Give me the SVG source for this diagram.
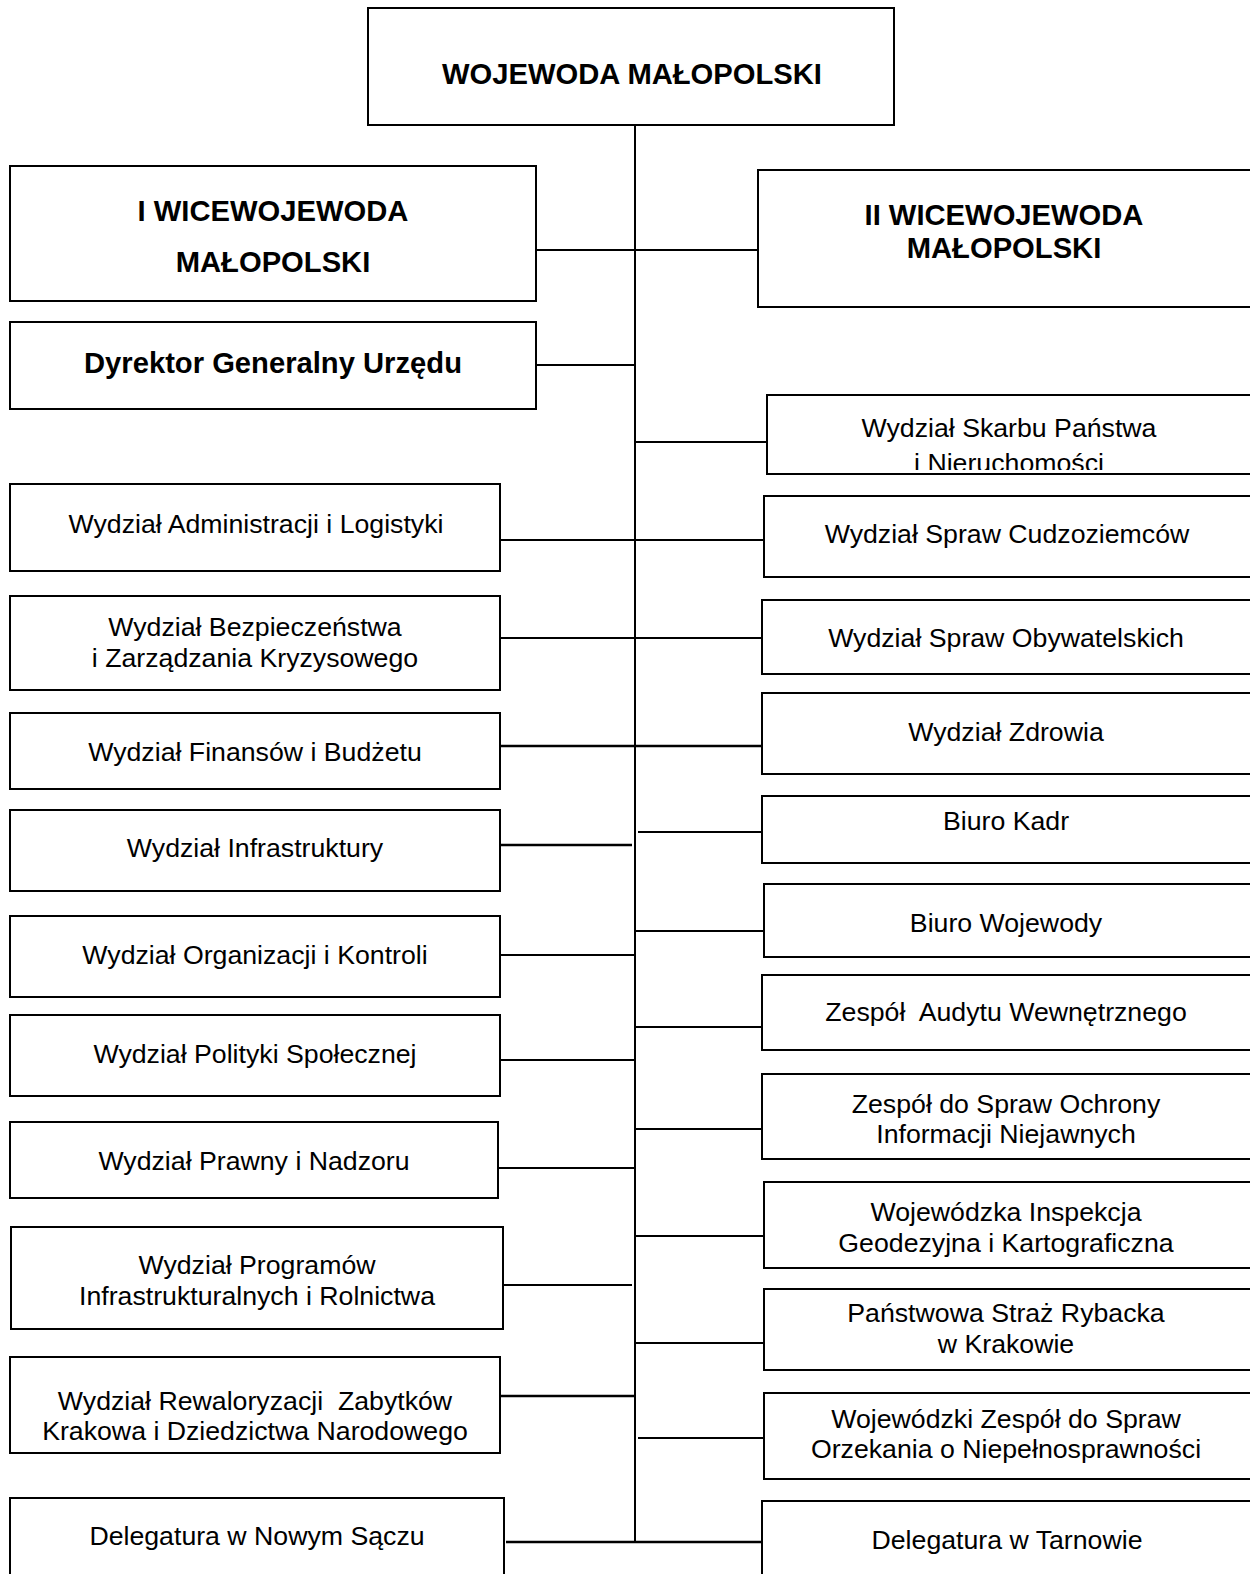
<svg xmlns="http://www.w3.org/2000/svg" width="1250" height="1574" viewBox="0 0 1250 1574">
<style>
.box{fill:#fff;stroke:#000;stroke-width:2}
.c line{stroke:#000;stroke-width:2}
.c line.k{stroke-width:2.6}
text{font-family:"Liberation Sans",Arial,sans-serif;text-anchor:middle;fill:#000}
.t{font-size:26.7px}
.b{font-size:29.2px;font-weight:bold}
</style>
<defs>
<clipPath id="clipSkarb"><rect x="767" y="395" width="490" height="75"/></clipPath>
<clipPath id="clipRew"><rect x="10" y="1357" width="490" height="88"/></clipPath>
</defs>
<rect width="1250" height="1574" fill="#fff"/>
<g class="c" id="connectors">
<line x1="635" y1="122" x2="635" y2="1542"/>
<line x1="537" y1="250" x2="760" y2="250"/>
<line x1="536" y1="365" x2="635" y2="365"/>
<line x1="635" y1="442" x2="767" y2="442"/>
<line x1="500" y1="540" x2="765" y2="540"/>
<line x1="501" y1="638" x2="762" y2="638"/>
<line class="k" x1="501" y1="746" x2="762" y2="746"/>
<line class="k" x1="501" y1="845" x2="632" y2="845"/>
<line x1="638" y1="832" x2="762" y2="832"/>
<line x1="635" y1="931" x2="764" y2="931"/>
<line x1="501" y1="955" x2="635" y2="955"/>
<line x1="635" y1="1027" x2="762" y2="1027"/>
<line x1="501" y1="1060" x2="635" y2="1060"/>
<line x1="635" y1="1129" x2="762" y2="1129"/>
<line x1="499" y1="1168" x2="635" y2="1168"/>
<line x1="635" y1="1236" x2="764" y2="1236"/>
<line x1="504" y1="1285" x2="632" y2="1285"/>
<line x1="635" y1="1343" x2="764" y2="1343"/>
<line class="k" x1="501" y1="1396" x2="635" y2="1396"/>
<line x1="638" y1="1438" x2="764" y2="1438"/>
<line class="k" x1="506" y1="1542" x2="764" y2="1542"/>
</g>
<g id="n-wojewoda"><rect class="box" x="368" y="8" width="526" height="117"/><text class="b" x="632" y="84">WOJEWODA MAŁOPOLSKI</text></g>
<g id="n-iwice"><rect class="box" x="10" y="166" width="526" height="135"/><text class="b" x="273" y="221">I WICEWOJEWODA</text><text class="b" x="273" y="272">MAŁOPOLSKI</text></g>
<g id="n-iiwice"><rect class="box" x="758" y="170" width="510" height="137"/><text class="b" x="1004" y="225">II WICEWOJEWODA</text><text class="b" x="1004" y="258">MAŁOPOLSKI</text></g>
<g id="n-dyrektor"><rect class="box" x="10" y="322" width="526" height="87"/><text class="b" x="273" y="373">Dyrektor Generalny Urzędu</text></g>
<g id="n-skarb"><rect class="box" x="767" y="395" width="500" height="79"/><g clip-path="url(#clipSkarb)"><text class="t" x="1009" y="437">Wydział Skarbu Państwa</text><text class="t" x="1009" y="472">i Nieruchomości</text></g></g>
<g id="n-admin"><rect class="box" x="10" y="484" width="490" height="87"/><text class="t" x="256" y="533">Wydział Administracji i Logistyki</text></g>
<g id="n-cudzo"><rect class="box" x="764" y="496" width="500" height="81"/><text class="t" x="1007" y="543">Wydział Spraw Cudzoziemców</text></g>
<g id="n-bezp"><rect class="box" x="10" y="596" width="490" height="94"/><text class="t" x="255" y="636">Wydział Bezpieczeństwa</text><text class="t" x="255" y="667">i Zarządzania Kryzysowego</text></g>
<g id="n-obyw"><rect class="box" x="762" y="600" width="500" height="74"/><text class="t" x="1006" y="647">Wydział Spraw Obywatelskich</text></g>
<g id="n-fin"><rect class="box" x="10" y="713" width="490" height="76"/><text class="t" x="255" y="761">Wydział Finansów i Budżetu</text></g>
<g id="n-zdrowia"><rect class="box" x="762" y="693" width="500" height="81"/><text class="t" x="1006" y="741">Wydział Zdrowia</text></g>
<g id="n-infra"><rect class="box" x="10" y="810" width="490" height="81"/><text class="t" x="255" y="857">Wydział Infrastruktury</text></g>
<g id="n-kadr"><rect class="box" x="762" y="796" width="500" height="67"/><text class="t" x="1006" y="830">Biuro Kadr</text></g>
<g id="n-biurowoj"><rect class="box" x="764" y="884" width="500" height="73"/><text class="t" x="1006" y="932">Biuro Wojewody</text></g>
<g id="n-org"><rect class="box" x="10" y="916" width="490" height="81"/><text class="t" x="255" y="964">Wydział Organizacji i Kontroli</text></g>
<g id="n-audyt"><rect class="box" x="762" y="975" width="500" height="75"/><text class="t" x="1006" y="1021" xml:space="preserve">Zespół  Audytu Wewnętrznego</text></g>
<g id="n-polit"><rect class="box" x="10" y="1015" width="490" height="81"/><text class="t" x="255" y="1063">Wydział Polityki Społecznej</text></g>
<g id="n-ochrony"><rect class="box" x="762" y="1074" width="500" height="85"/><text class="t" x="1006" y="1113">Zespół do Spraw Ochrony</text><text class="t" x="1006" y="1143">Informacji Niejawnych</text></g>
<g id="n-prawny"><rect class="box" x="10" y="1122" width="488" height="76"/><text class="t" x="254" y="1170">Wydział Prawny i Nadzoru</text></g>
<g id="n-inspekcja"><rect class="box" x="764" y="1182" width="500" height="86"/><text class="t" x="1006" y="1221">Wojewódzka Inspekcja</text><text class="t" x="1006" y="1252">Geodezyjna i Kartograficzna</text></g>
<g id="n-program"><rect class="box" x="11" y="1227" width="492" height="102"/><text class="t" x="257" y="1274">Wydział Programów</text><text class="t" x="257" y="1305">Infrastrukturalnych i Rolnictwa</text></g>
<g id="n-straz"><rect class="box" x="764" y="1289" width="500" height="81"/><text class="t" x="1006" y="1322">Państwowa Straż Rybacka</text><text class="t" x="1006" y="1353">w Krakowie</text></g>
<g id="n-rewal"><rect class="box" x="10" y="1357" width="490" height="96"/><g clip-path="url(#clipRew)"><text class="t" x="255" y="1410" xml:space="preserve">Wydział Rewaloryzacji  Zabytków</text><text class="t" x="255" y="1440">Krakowa i Dziedzictwa Narodowego</text></g></g>
<g id="n-orzek"><rect class="box" x="764" y="1393" width="500" height="86"/><text class="t" x="1006" y="1428">Wojewódzki Zespół do Spraw</text><text class="t" x="1006" y="1458">Orzekania o Niepełnosprawności</text></g>
<g id="n-sacz"><rect class="box" x="10" y="1498" width="494" height="90"/><text class="t" x="257" y="1545">Delegatura w Nowym Sączu</text></g>
<g id="n-tarnow"><rect class="box" x="762" y="1501" width="500" height="90"/><text class="t" x="1007" y="1549">Delegatura w Tarnowie</text></g>
</svg>
